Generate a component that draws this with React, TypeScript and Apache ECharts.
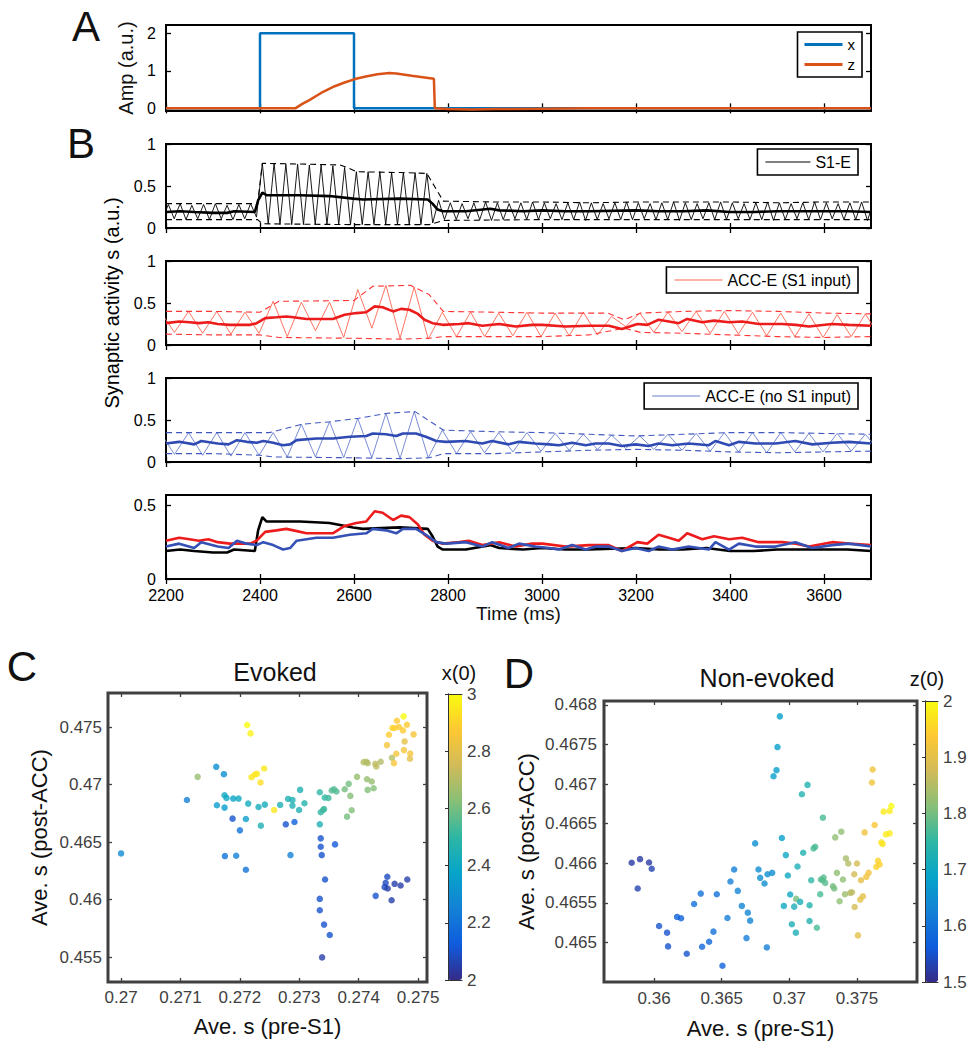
import React, { useEffect, useRef } from 'react';
import * as echarts from 'echarts';

const FONT = '"Liberation Sans", Arial, Helvetica, sans-serif';

// ---------------- Panel A ----------------
const stimX: [number, number][] = [[2200, 0], [2400, 0], [2400, 2], [2600, 2], [2600, 0], [3700, 0]];
const stimZ: [number, number][] = [[2200, 0], [2475, 0], [2490, 0.12], [2505, 0.22], [2530, 0.41], [2559, 0.59], [2580, 0.69], [2602, 0.78], [2625, 0.85], [2650, 0.91], [2675, 0.94], [2690, 0.93], [2723, 0.87], [2770, 0.79], [2772, 0], [2800, -0.02], [2850, -0.03], [2900, -0.02], [3000, -0.01], [3100, 0], [3700, 0]];
const timeTicks = [2200, 2400, 2600, 2800, 3000, 3200, 3400, 3600];

// ---------------- Panel B: S1-E (sampled every 12.5 ms from 2192.5 ms) ----------------
const S1_T0 = 2192.5;
const S1_DT = 12.5;
const s1Thin = [
  0.11,
  0.28, 0.11, 0.29, 0.10, 0.27, 0.11, 0.28, 0.10, 0.29, 0.11, 0.27, 0.10, 0.28, 0.11, 0.29, 0.13,
  0.77, 0.05, 0.77, 0.04, 0.76, 0.04, 0.76, 0.04, 0.75, 0.04, 0.75, 0.04, 0.74, 0.04, 0.72, 0.04,
  0.67, 0.04, 0.67, 0.04, 0.67, 0.04, 0.66, 0.04, 0.66, 0.04, 0.66, 0.04, 0.65, 0.06,
  0.33, 0.10, 0.30, 0.10, 0.29, 0.11, 0.30, 0.10, 0.31, 0.09, 0.30, 0.10, 0.29, 0.11, 0.30, 0.10, 0.31, 0.10, 0.30, 0.11,
  0.29, 0.10, 0.30, 0.10, 0.31, 0.09, 0.30, 0.10, 0.29, 0.11, 0.30, 0.10, 0.31, 0.10, 0.30, 0.11, 0.29, 0.10, 0.30, 0.10,
  0.31, 0.09, 0.30, 0.10, 0.29, 0.11, 0.30, 0.10, 0.31, 0.10, 0.30, 0.11, 0.29, 0.10, 0.30, 0.10, 0.31, 0.09, 0.30, 0.10,
  0.29, 0.11, 0.30, 0.10, 0.31, 0.10, 0.30, 0.11, 0.29, 0.10, 0.30, 0.10, 0.31, 0.09,
  0.30,
];
const s1Upper: [number, number][] = [[2200, 0.29], [2300, 0.29], [2395, 0.29], [2405, 0.77], [2500, 0.76], [2570, 0.75], [2590, 0.71], [2605, 0.67], [2700, 0.66], [2755, 0.65], [2790, 0.32], [2900, 0.31], [3000, 0.31], [3100, 0.30], [3200, 0.31], [3300, 0.31], [3400, 0.31], [3500, 0.30], [3600, 0.31], [3700, 0.31]];
const s1Lower: [number, number][] = [[2200, 0.10], [2395, 0.10], [2405, 0.05], [2600, 0.04], [2760, 0.04], [2790, 0.09], [3000, 0.10], [3400, 0.10], [3700, 0.10]];
const s1Mean: [number, number][] = [[2200, 0.19], [2230, 0.20], [2260, 0.19], [2300, 0.18], [2330, 0.18], [2345, 0.20], [2389, 0.19], [2396, 0.33], [2405, 0.42], [2414, 0.39], [2485, 0.39], [2548, 0.38], [2598, 0.35], [2619, 0.34], [2697, 0.35], [2757, 0.34], [2767, 0.29], [2778, 0.22], [2789, 0.20], [2838, 0.20], [2890, 0.23], [2909, 0.21], [2960, 0.20], [3000, 0.21], [3050, 0.20], [3100, 0.20], [3200, 0.21], [3250, 0.20], [3300, 0.20], [3350, 0.21], [3400, 0.19], [3450, 0.19], [3500, 0.20], [3550, 0.20], [3600, 0.20], [3650, 0.20], [3700, 0.19]];

// ---------------- Panel B: ACC-E traces (sampled every 30 ms from 2188 ms) ----------------
const ACC_T0 = 2188;
const ACC_DT = 30;
const accS1Thin = [
  0.40, 0.15, 0.40, 0.14, 0.40, 0.13, 0.39, 0.14,
  0.52, 0.10, 0.51, 0.17, 0.51, 0.09, 0.66, 0.20, 0.71, 0.08, 0.69, 0.07,
  0.39, 0.10, 0.39, 0.10, 0.38, 0.11, 0.39, 0.10, 0.38, 0.11, 0.39, 0.12, 0.34, 0.22,
  0.38, 0.15, 0.39, 0.16, 0.40, 0.14, 0.40, 0.13, 0.39, 0.11, 0.38, 0.10, 0.37, 0.09, 0.36, 0.10, 0.37, 0.10,
];
const accS1Upper: [number, number][] = [[2200, 0.40], [2300, 0.40], [2400, 0.39], [2440, 0.52], [2600, 0.53], [2640, 0.70], [2720, 0.71], [2760, 0.60], [2790, 0.40], [2900, 0.39], [3000, 0.38], [3140, 0.38], [3175, 0.30], [3210, 0.38], [3300, 0.40], [3400, 0.41], [3500, 0.40], [3600, 0.38], [3700, 0.37]];
const accS1Lower: [number, number][] = [[2200, 0.13], [2300, 0.12], [2400, 0.12], [2440, 0.09], [2600, 0.08], [2700, 0.07], [2760, 0.08], [2790, 0.10], [2900, 0.10], [3000, 0.10], [3100, 0.12], [3175, 0.20], [3210, 0.15], [3300, 0.14], [3400, 0.12], [3500, 0.10], [3600, 0.09], [3700, 0.10]];
const accS1Mean: [number, number][] = [[2200, 0.26], [2228, 0.28], [2250, 0.27], [2270, 0.26], [2290, 0.27], [2310, 0.25], [2336, 0.24], [2379, 0.24], [2393, 0.26], [2411, 0.32], [2435, 0.33], [2456, 0.34], [2471, 0.33], [2499, 0.31], [2555, 0.31], [2580, 0.36], [2605, 0.38], [2626, 0.39], [2644, 0.46], [2661, 0.45], [2683, 0.40], [2700, 0.43], [2718, 0.42], [2736, 0.37], [2750, 0.30], [2767, 0.26], [2789, 0.24], [2824, 0.25], [2844, 0.26], [2873, 0.23], [2909, 0.25], [2944, 0.22], [2979, 0.24], [3001, 0.24], [3050, 0.22], [3100, 0.23], [3142, 0.23], [3170, 0.19], [3203, 0.25], [3224, 0.24], [3248, 0.30], [3270, 0.28], [3291, 0.26], [3309, 0.31], [3341, 0.27], [3366, 0.29], [3398, 0.27], [3426, 0.28], [3461, 0.25], [3511, 0.25], [3540, 0.24], [3568, 0.22], [3617, 0.25], [3653, 0.24], [3700, 0.23]];

const accNoThin = [
  0.35, 0.09, 0.35, 0.08, 0.35, 0.07, 0.35, 0.08,
  0.35, 0.06, 0.45, 0.06, 0.48, 0.05, 0.52, 0.05, 0.58, 0.04, 0.60, 0.05,
  0.38, 0.10, 0.36, 0.11, 0.35, 0.12, 0.35, 0.13, 0.34, 0.14, 0.33, 0.15, 0.32, 0.16,
  0.31, 0.15, 0.33, 0.14, 0.34, 0.13, 0.35, 0.12, 0.35, 0.11, 0.35, 0.12, 0.34, 0.12, 0.34, 0.13, 0.33, 0.13,
];
const accNoUpper: [number, number][] = [[2200, 0.35], [2300, 0.35], [2420, 0.35], [2490, 0.45], [2550, 0.48], [2610, 0.52], [2670, 0.58], [2730, 0.60], [2790, 0.38], [2900, 0.36], [3000, 0.35], [3100, 0.33], [3200, 0.31], [3300, 0.33], [3400, 0.35], [3500, 0.35], [3600, 0.34], [3700, 0.33]];
const accNoLower: [number, number][] = [[2200, 0.10], [2300, 0.10], [2400, 0.08], [2430, 0.06], [2600, 0.05], [2700, 0.04], [2760, 0.05], [2790, 0.10], [2900, 0.10], [3000, 0.12], [3100, 0.14], [3200, 0.15], [3300, 0.14], [3400, 0.12], [3500, 0.11], [3600, 0.12], [3700, 0.13]];
const accNoMean: [number, number][] = [[2200, 0.22], [2228, 0.24], [2260, 0.21], [2275, 0.25], [2310, 0.22], [2333, 0.21], [2351, 0.26], [2372, 0.24], [2393, 0.23], [2407, 0.25], [2428, 0.23], [2449, 0.20], [2464, 0.21], [2478, 0.26], [2520, 0.28], [2555, 0.28], [2591, 0.30], [2626, 0.31], [2640, 0.34], [2668, 0.33], [2690, 0.31], [2704, 0.34], [2732, 0.34], [2753, 0.30], [2775, 0.25], [2796, 0.24], [2838, 0.25], [2873, 0.22], [2894, 0.25], [2929, 0.21], [2951, 0.24], [2986, 0.22], [3015, 0.21], [3036, 0.20], [3064, 0.23], [3093, 0.20], [3114, 0.22], [3142, 0.22], [3170, 0.19], [3199, 0.21], [3227, 0.19], [3248, 0.22], [3277, 0.20], [3312, 0.22], [3355, 0.20], [3369, 0.25], [3398, 0.20], [3419, 0.24], [3454, 0.22], [3497, 0.22], [3539, 0.25], [3575, 0.21], [3617, 0.23], [3653, 0.24], [3700, 0.22]];

// ---------------- Panel C (Evoked) ----------------
const cPreS1 = [0.27, 0.271109, 0.271289, 0.271602, 0.271731, 0.271613, 0.271742, 0.271775, 0.271742, 0.271888, 0.271978, 0.271877, 0.272101, 0.27214, 0.272, 0.271748, 0.271938, 0.272101, 0.272123, 0.272179, 0.272196, 0.272252, 0.272286, 0.272409, 0.272347, 0.272314, 0.27242, 0.272353, 0.272577, 0.272678, 0.272773, 0.272812, 0.272885, 0.272885, 0.272919, 0.272852, 0.273014, 0.272997, 0.273087, 0.273345, 0.273345, 0.273361, 0.273401, 0.273429, 0.27349, 0.273417, 0.273546, 0.273585, 0.273625, 0.273361, 0.273361, 0.273378, 0.273602, 0.273434, 0.273345, 0.273345, 0.273417, 0.273513, 0.273384, 0.273765, 0.273832, 0.27386, 0.273804, 0.273882, 0.273972, 0.274084, 0.274129, 0.274151, 0.27414, 0.274219, 0.274151, 0.274252, 0.27428, 0.274297, 0.27437, 0.274476, 0.27451, 0.274566, 0.274605, 0.274644, 0.274678, 0.274745, 0.274756, 0.274812, 0.274924, 0.27456, 0.274633, 0.274594, 0.274762, 0.274773, 0.274868, 0.274863, 0.274286, 0.274482, 0.274454, 0.274437, 0.274488, 0.274605, 0.274706, 0.274818, 0.274554];
const cPostACC = [0.46401, 0.46866, 0.470669, 0.471541, 0.470901, 0.468198, 0.46907, 0.468837, 0.467994, 0.468779, 0.468779, 0.467035, 0.467006, 0.468343, 0.466017, 0.463779, 0.463808, 0.462587, 0.475174, 0.474448, 0.47064, 0.470872, 0.47093, 0.471395, 0.470174, 0.468052, 0.468256, 0.466424, 0.467791, 0.468227, 0.466541, 0.46875, 0.468663, 0.468169, 0.466744, 0.463866, 0.469535, 0.467791, 0.468372, 0.469331, 0.466541, 0.467587, 0.467791, 0.468866, 0.468837, 0.467878, 0.469477, 0.469593, 0.46939, 0.46532, 0.464593, 0.463866, 0.464797, 0.461744, 0.460058, 0.45907, 0.45782, 0.456919, 0.454971, 0.469593, 0.470058, 0.469012, 0.467209, 0.467762, 0.470669, 0.471948, 0.471977, 0.47186, 0.470465, 0.470262, 0.469535, 0.46968, 0.471802, 0.47157, 0.471977, 0.47343, 0.474331, 0.474913, 0.474913, 0.475552, 0.475, 0.474709, 0.47593, 0.475203, 0.47436, 0.472326, 0.472674, 0.47186, 0.472994, 0.47375, 0.472703, 0.472238, 0.46032, 0.461977, 0.461453, 0.461076, 0.460959, 0.461366, 0.461221, 0.461744, 0.459942];
const cX0 = [2.28, 2.25, 2.65, 2.3, 2.3, 2.35, 2.4, 2.4, 2.35, 2.38, 2.4, 2.1, 2.35, 2.42, 2.2, 2.2, 2.25, 2.2, 3.0, 2.98, 2.95, 2.95, 2.95, 2.95, 2.93, 2.42, 2.42, 2.45, 2.95, 2.45, 2.1, 2.45, 2.45, 2.45, 2.15, 2.25, 2.45, 2.45, 2.47, 2.5, 2.45, 2.5, 2.52, 2.5, 2.52, 2.52, 2.55, 2.55, 2.55, 2.1, 2.1, 2.1, 2.12, 2.1, 2.1, 2.1, 2.1, 2.1, 2.05, 2.6, 2.6, 2.62, 2.6, 2.62, 2.65, 2.7, 2.7, 2.7, 2.65, 2.65, 2.62, 2.62, 2.72, 2.72, 2.7, 2.85, 2.88, 2.9, 2.9, 2.88, 2.88, 2.88, 3.0, 2.88, 2.85, 2.7, 2.85, 2.85, 2.85, 2.8, 2.85, 2.8, 2.1, 2.08, 2.08, 2.08, 2.05, 2.05, 2.05, 2.05, 2.05];
const cXTicks = [0.27, 0.271, 0.272, 0.273, 0.274, 0.275];
const cYTicks = [0.455, 0.46, 0.465, 0.47, 0.475];
const cBarTicks = [2, 2.2, 2.4, 2.6, 2.8, 3];

// ---------------- Panel D (Non-evoked) ----------------
const dPreS1 = [0.358347, 0.358964, 0.35963, 0.359827, 0.358791, 0.36037, 0.360962, 0.361036, 0.361702, 0.361998, 0.362417, 0.36296, 0.363453, 0.363552, 0.36407, 0.364391, 0.364638, 0.365057, 0.365427, 0.365649, 0.365921, 0.366192, 0.366488, 0.366932, 0.367105, 0.366834, 0.367475, 0.367722, 0.367845, 0.368166, 0.368388, 0.368733, 0.368338, 0.3693, 0.369127, 0.369053, 0.368832, 0.369448, 0.369744, 0.369892, 0.370064, 0.369596, 0.370188, 0.370484, 0.370361, 0.370607, 0.370509, 0.370805, 0.370928, 0.371347, 0.371026, 0.371495, 0.371495, 0.371618, 0.371791, 0.371914, 0.372038, 0.372285, 0.372482, 0.372334, 0.372532, 0.372655, 0.372458, 0.373223, 0.373322, 0.37352, 0.373396, 0.37384, 0.373717, 0.373964, 0.374112, 0.374186, 0.374359, 0.374507, 0.374631, 0.374803, 0.375, 0.374828, 0.375074, 0.375296, 0.375247, 0.375444, 0.375567, 0.375691, 0.375863, 0.376159, 0.37611, 0.376307, 0.376431, 0.376554, 0.376677, 0.376801, 0.376899, 0.376973, 0.377417, 0.37754, 0.377146, 0.377417];
const dPostACC = [0.466006, 0.466052, 0.46601, 0.46593, 0.465681, 0.465207, 0.465123, 0.46495, 0.465322, 0.465305, 0.464857, 0.465486, 0.465617, 0.464945, 0.465009, 0.465136, 0.465609, 0.464705, 0.465309, 0.465769, 0.465921, 0.465651, 0.465461, 0.465376, 0.465275, 0.465055, 0.466251, 0.465921, 0.465816, 0.465744, 0.465862, 0.465879, 0.464937, 0.467856, 0.467468, 0.467176, 0.4671, 0.466319, 0.466103, 0.465845, 0.465605, 0.465461, 0.465229, 0.465123, 0.465452, 0.465959, 0.46555, 0.465512, 0.466872, 0.46699, 0.466133, 0.465469, 0.465271, 0.465786, 0.466188, 0.466209, 0.465186, 0.465609, 0.466576, 0.465795, 0.46582, 0.465752, 0.465786, 0.46571, 0.465681, 0.465879, 0.466327, 0.466399, 0.46552, 0.465795, 0.465609, 0.466061, 0.465997, 0.465626, 0.465634, 0.465862, 0.465997, 0.465448, 0.465089, 0.465786, 0.465541, 0.465583, 0.46639, 0.465828, 0.465879, 0.467185, 0.46702, 0.466483, 0.465955, 0.466031, 0.465985, 0.466264, 0.466243, 0.466652, 0.466661, 0.466724, 0.466365, 0.466378];
const dZ0 = [1.52, 1.52, 1.52, 1.53, 1.53, 1.55, 1.55, 1.55, 1.57, 1.57, 1.55, 1.6, 1.6, 1.58, 1.58, 1.6, 1.6, 1.57, 1.62, 1.62, 1.62, 1.63, 1.63, 1.63, 1.63, 1.62, 1.65, 1.65, 1.65, 1.65, 1.65, 1.65, 1.62, 1.68, 1.68, 1.68, 1.68, 1.68, 1.7, 1.7, 1.7, 1.7, 1.72, 1.72, 1.72, 1.72, 1.8, 1.72, 1.73, 1.73, 1.73, 1.73, 1.73, 1.75, 1.77, 1.77, 1.77, 1.77, 1.77, 1.78, 1.78, 1.78, 1.78, 1.8, 1.8, 1.82, 1.82, 1.82, 1.82, 1.82, 1.83, 1.84, 1.85, 1.85, 1.86, 1.88, 1.88, 1.88, 1.9, 1.9, 1.9, 1.9, 1.92, 1.92, 1.92, 1.92, 1.92, 1.93, 1.95, 1.95, 1.95, 1.97, 1.97, 1.98, 1.98, 2.0, 1.98, 1.98];
const dXTicks = [0.36, 0.365, 0.37, 0.375];
const dYTicks = [0.465, 0.4655, 0.466, 0.4665, 0.467, 0.4675, 0.468];
const dBarTicks = [1.5, 1.6, 1.7, 1.8, 1.9, 2];

const PARULA = ['#352A87', '#0F5CDD', '#1481D6', '#06A4CA', '#2EB7A4', '#87BF77', '#D1BB59', '#FEC832', '#F9FB0E'];

type AxisCfg = {
  min: number; max: number; ticks: number[]; labels: boolean; margin?: number;
  color: string; fontSize: number; tickColor: string; tickLen: number;
  name?: string; nameGap?: number; nameSize?: number;
};

function makeAxis(gi: number, position: string, c: AxisCfg, primary: boolean) {
  return {
    type: 'value', gridIndex: gi, position, min: c.min, max: c.max,
    axisLine: { show: false },
    splitLine: { show: false },
    axisTick: { show: true, inside: true, length: c.tickLen, customValues: c.ticks, lineStyle: { color: c.tickColor, width: 1.3 } },
    axisLabel: {
      show: primary && c.labels, customValues: c.ticks, margin: c.margin ?? 8,
      color: c.color, fontSize: c.fontSize, fontFamily: FONT, formatter: (v: number) => String(v),
    },
    name: primary && c.name ? c.name : '',
    nameLocation: 'middle', nameGap: c.nameGap ?? 20,
    nameTextStyle: { fontSize: c.nameSize ?? 16, fontFamily: FONT, color: '#111' },
  };
}

function series2(t0: number, dt: number, vals: number[]) {
  return vals.map((v, i) => [t0 + dt * i, v]);
}

function buildOption() {
  const grid: any[] = [];
  const xAxis: any[] = [];
  const yAxis: any[] = [];
  const series: any[] = [];

  const panel = (g: any, x: AxisCfg, y: AxisCfg, borderColor: string, borderWidth: number) => {
    const gi = grid.length;
    grid.push({ ...g, show: true, borderColor, borderWidth, backgroundColor: 'transparent' });
    const xi = xAxis.length;
    xAxis.push(makeAxis(gi, 'bottom', x, true));
    xAxis.push(makeAxis(gi, 'top', x, false));
    const yi = yAxis.length;
    yAxis.push(makeAxis(gi, 'left', y, true));
    yAxis.push(makeAxis(gi, 'right', y, false));
    return { xi, yi };
  };

  const tX = (labels: boolean, name?: string): AxisCfg => ({
    min: 2200, max: 3700, ticks: timeTicks, labels, margin: 8, color: '#000', fontSize: 16,
    tickColor: '#000', tickLen: 5, name, nameGap: 24, nameSize: 19,
  });
  const bY = (min: number, max: number, ticks: number[], name?: string, nameGap?: number): AxisCfg => ({
    min, max, ticks, labels: true, margin: 10, color: '#000', fontSize: 16,
    tickColor: '#000', tickLen: 5, name, nameGap, nameSize: 20,
  });

  const line = (name: string, ax: any, data: any[], color: string, width: number, dashed = false) => ({
    type: 'line', name, xAxisIndex: ax.xi, yAxisIndex: ax.yi, data, showSymbol: false, symbol: 'none',
    lineStyle: { color, width, type: dashed ? [6, 4] : 'solid' }, itemStyle: { color },
    animation: false, silent: true, z: 2,
  });

  // Panel A
  const aAx = panel({ left: 166, top: 25, width: 705, height: 86 },
    tX(false), bY(-0.07, 2.22, [0, 1, 2], 'Amp (a.u.)', 22), '#000', 2);
  series.push(line('x', aAx, stimX, '#0072BD', 2.5));
  series.push(line('z', aAx, stimZ, '#D95319', 2.5));

  // Panel B1 .. B3
  const bTops = [144, 261, 378];
  const traceSets = [
    { name: 'S1-E', thin: series2(S1_T0, S1_DT, s1Thin), up: s1Upper, lo: s1Lower, mean: s1Mean, cThin: '#000', cDash: '#000', cMean: '#000' },
    { name: 'ACC-E (S1 input)', thin: series2(ACC_T0, ACC_DT, accS1Thin), up: accS1Upper, lo: accS1Lower, mean: accS1Mean, cThin: '#ff6450', cDash: '#ff3535', cMean: '#ec1c1c' },
    { name: 'ACC-E (no S1 input)', thin: series2(ACC_T0, ACC_DT, accNoThin), up: accNoUpper, lo: accNoLower, mean: accNoMean, cThin: '#6a7fd0', cDash: '#4058be', cMean: '#2f4ab2' },
  ];
  traceSets.forEach((s, k) => {
    const ax = panel({ left: 166, top: bTops[k], width: 705, height: 84 }, tX(false), bY(0, 1, [0, 0.5, 1]), '#000', 2);
    series.push(line(s.name, ax, s.thin, s.cThin, 0.9));
    series.push(line(s.name + ' upper', ax, s.up, s.cDash, 1.1, true));
    series.push(line(s.name + ' lower', ax, s.lo, s.cDash, 1.1, true));
    series.push(line(s.name + ' mean', ax, s.mean, s.cMean, 2.6));
  });

  // Panel B4
  const b4Ax = panel({ left: 166, top: 495, width: 705, height: 84 }, tX(true, 'Time (ms)'), bY(0, 0.57, [0, 0.5]), '#000', 2);
  series.push(line('S1-E avg', b4Ax, s1Mean, '#000', 2.6));
  series.push(line('ACC-E (S1 input) avg', b4Ax, accS1Mean, '#ec1c1c', 2.6));
  series.push(line('ACC-E (no S1 input) avg', b4Ax, accNoMean, '#3551b6', 2.6));

  // Panel C
  const cAx = panel({ left: 108, top: 693, width: 319, height: 289 },
    { min: 0.26978, max: 0.27515, ticks: cXTicks, labels: true, margin: 7, color: '#404040', fontSize: 17, tickColor: '#404040', tickLen: 4, name: 'Ave. s (pre-S1)', nameGap: 33, nameSize: 22 },
    { min: 0.45283, max: 0.47796, ticks: cYTicks, labels: true, margin: 6, color: '#404040', fontSize: 17, tickColor: '#404040', tickLen: 4, name: 'Ave. s (post-ACC)', nameGap: 58, nameSize: 22 },
    '#404040', 3);
  const cIdx = series.length;
  series.push({
    type: 'scatter', name: 'Evoked', xAxisIndex: cAx.xi, yAxisIndex: cAx.yi, symbolSize: 6.5,
    data: cPreS1.map((v, i) => [v, cPostACC[i], cX0[i]]), animation: false, silent: true,
  });

  // Panel D
  const dAx = panel({ left: 604, top: 701, width: 313, height: 281 },
    { min: 0.3563, max: 0.37944, ticks: dXTicks, labels: true, margin: 8, color: '#404040', fontSize: 17, tickColor: '#404040', tickLen: 4, name: 'Ave. s (pre-S1)', nameGap: 35, nameSize: 22 },
    { min: 0.4645, max: 0.46805, ticks: dYTicks, labels: true, margin: 7, color: '#404040', fontSize: 17, tickColor: '#404040', tickLen: 4, name: 'Ave. s (post-ACC)', nameGap: 67, nameSize: 22 },
    '#404040', 3);
  const dIdx = series.length;
  series.push({
    type: 'scatter', name: 'Non-evoked', xAxisIndex: dAx.xi, yAxisIndex: dAx.yi, symbolSize: 6.5,
    data: dPreS1.map((v, i) => [v, dPostACC[i], dZ0[i]]), animation: false, silent: true,
  });

  // Colorbars (axes only; gradient from visualMap)
  const colorbar = (g: any, min: number, max: number, ticks: number[]) => {
    const gi = grid.length;
    grid.push({ ...g, show: false });
    const edge = { show: true, lineStyle: { color: '#333', width: 1 } };
    xAxis.push({ type: 'value', gridIndex: gi, position: 'bottom', min: 0, max: 1, z: 10, axisLine: edge, axisTick: { show: false }, axisLabel: { show: false }, splitLine: { show: false } });
    xAxis.push({ type: 'value', gridIndex: gi, position: 'top', min: 0, max: 1, z: 10, axisLine: edge, axisTick: { show: false }, axisLabel: { show: false }, splitLine: { show: false } });
    yAxis.push({
      type: 'value', gridIndex: gi, position: 'right', min, max, z: 10, axisLine: edge, splitLine: { show: false },
      axisTick: { show: true, inside: true, length: 3, customValues: ticks, lineStyle: { color: '#333' } },
      axisLabel: { show: true, customValues: ticks, margin: 5, color: '#404040', fontSize: 17, fontFamily: FONT, formatter: (v: number) => String(v) },
    });
    yAxis.push({ type: 'value', gridIndex: gi, position: 'left', min, max, z: 10, axisLine: edge, axisTick: { show: false }, axisLabel: { show: false }, splitLine: { show: false } });
  };
  colorbar({ left: 448, top: 694, width: 14, height: 286 }, 2, 3, cBarTicks);
  colorbar({ left: 925, top: 701, width: 13, height: 281 }, 1.5, 2, dBarTicks);

  const visualMap = [
    { type: 'continuous', seriesIndex: cIdx, dimension: 2, min: 2, max: 3, inRange: { color: PARULA }, left: 448, top: 694, itemWidth: 14, itemHeight: 286, calculable: false, padding: 0, orient: 'vertical', hoverLink: false },
    { type: 'continuous', seriesIndex: dIdx, dimension: 2, min: 1.5, max: 2, inRange: { color: PARULA }, left: 925, top: 701, itemWidth: 13, itemHeight: 281, calculable: false, padding: 0, orient: 'vertical', hoverLink: false },
  ];

  const legBase = {
    orient: 'vertical', borderColor: '#000', borderWidth: 1.6, backgroundColor: '#fff', icon: 'rect',
    selectedMode: false, textStyle: { fontSize: 16, fontFamily: FONT, color: '#000' }, z: 20,
  };
  const legend = [
    { ...legBase, data: ['x', 'z'], right: 112, top: 32, itemWidth: 38, itemHeight: 3, itemGap: 5, padding: [5, 7, 5, 7], textStyle: { ...legBase.textStyle, fontSize: 15 } },
    { ...legBase, data: ['S1-E'], right: 116, top: 149, itemWidth: 45, itemHeight: 1, padding: [5, 7, 5, 8] },
    { ...legBase, data: ['ACC-E (S1 input)'], right: 116, top: 267, itemWidth: 48, itemHeight: 1, padding: [5, 7, 5, 8] },
    { ...legBase, data: ['ACC-E (no S1 input)'], right: 116, top: 383, itemWidth: 48, itemHeight: 1, padding: [5, 7, 5, 8] },
  ];

  const txt = (text: string, x: number, y: number, fontSize: number, rotation = 0, fill = '#111') => ({
    type: 'text', x, y, rotation, z: 30,
    style: { text, fontSize, fontFamily: FONT, fill, align: 'center', verticalAlign: 'middle', textAlign: 'center', textVerticalAlign: 'middle' },
  });
  const graphic = [
    txt('A', 86, 26, 42),
    txt('B', 81, 143, 42),
    txt('C', 22, 666, 42),
    txt('D', 519, 673, 42),
    txt('Synaptic activity s (a.u.)', 112, 303, 20, Math.PI / 2, '#000'),
    txt('Evoked', 275, 672, 25),
    txt('Non-evoked', 767, 678, 25),
    txt('x(0)', 459, 673, 20),
    txt('z(0)', 927, 679, 20),
  ];

  return { animation: false, backgroundColor: '#fff', grid, xAxis, yAxis, series, visualMap, legend, graphic };
}

export default function App() {
  const ref = useRef<HTMLDivElement>(null);
  useEffect(() => {
    if (!ref.current) return;
    const chart = echarts.init(ref.current, null, { renderer: 'svg' });
    chart.setOption(buildOption() as any);
    return () => chart.dispose();
  }, []);
  return <div ref={ref} style={{ position: 'fixed', left: 0, top: 0, width: 974, height: 1050, background: '#fff' }} />;
}
